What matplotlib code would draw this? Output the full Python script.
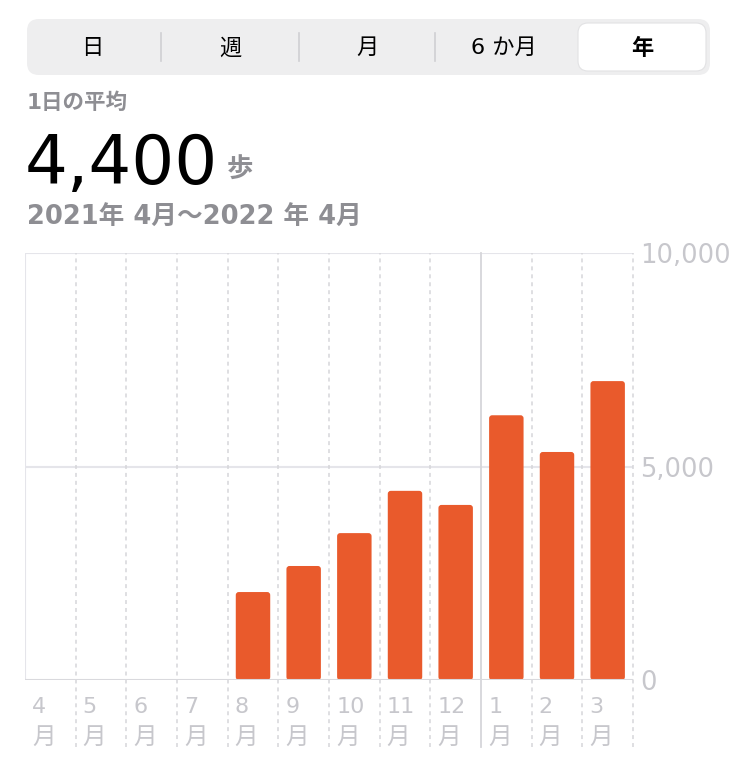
import numpy as np
import matplotlib
matplotlib.use("Agg")
import matplotlib.pyplot as plt
from matplotlib.patches import FancyBboxPatch
from matplotlib.transforms import blended_transform_factory

plt.rcParams['font.family'] = ['DejaVu Sans', 'Noto Sans CJK JP']

# data (steps per day, Apr 2021 - Mar 2022)
months = ["4", "5", "6", "7", "8", "9", "10", "11", "12", "1", "2", "3"]
steps = [0, 0, 0, 0, 2060, 2670, 3440, 4430, 4100, 6200, 5340, 7000]
y_ticks = [0, 5000, 10000]
tabs = ["日", "週", "月", "6 か月", "年"]
selected_tab = "年"
avg_label = "1日の平均"
avg_value = "4,400"
unit = "歩"
period = "2021年 4月〜2022 年 4月"

BAR = "#e95a2c"
GRAY = "#8e8e93"
LIGHT = "#c7c7cc"
GRID = "#e5e5ea"
DASH = "#d6d6da"

W, H = 732, 769
fig = plt.figure(figsize=(W / 100, H / 100), dpi=100)

# overlay in pixel coordinates for the header part
ov = fig.add_axes([0, 0, 1, 1])
ov.set_xlim(0, W)
ov.set_ylim(H, 0)
ov.axis("off")

# segmented control
ov.add_patch(FancyBboxPatch((27, 19), 683, 56, boxstyle="round,pad=0,rounding_size=12",
                            fc="#eeeeef", ec="none"))
ov.add_patch(FancyBboxPatch((578, 23), 128, 48, boxstyle="round,pad=0,rounding_size=10",
                            fc="white", ec="#e2e2e4", lw=0.8))
tab_x = [92, 230, 367, 504, 642]
for sx in [161, 299, 435]:
    ov.plot([sx, sx], [33, 61], color="#cfcfd3", lw=1.2)
for tx, t in zip(tab_x, tabs):
    ov.text(tx, 48, t, ha="center", va="center", fontsize=16, color="black",
            fontweight="bold" if t == selected_tab else "normal")

# header texts
ov.text(27, 103, avg_label, ha="left", va="center", fontsize=15.5, color=GRAY, fontweight="bold")
ov.text(25, 184, avg_value, ha="left", va="baseline", fontsize=48.5, color="black")
ov.text(227, 178, unit, ha="left", va="baseline", fontsize=19, color=GRAY, fontweight="bold")
ov.text(27, 218, period, ha="left", va="center", fontsize=18.5, color=GRAY, fontweight="bold")

# chart
ax = fig.add_axes([25 / W, 1 - 680 / H, 608 / W, 427 / H])
ax.set_xlim(0, 12)
ax.set_ylim(0, 10000)
for s in ax.spines.values():
    s.set_visible(False)
ax.set_xticks([])

x = np.arange(len(months)) + 0.5
bars = ax.bar(x, steps, width=0.68, color=BAR, linewidth=0, zorder=3)

# give the bars slightly rounded corners (about 3 px)
x_per_px = 12 / 608
y_per_px = 10000 / 427
for b in bars:
    if b.get_height() <= 0:
        continue
    rb = FancyBboxPatch((b.get_x(), b.get_y()), b.get_width(), b.get_height(),
                        boxstyle=f"round,pad=0,rounding_size={3 * x_per_px}",
                        mutation_aspect=y_per_px / x_per_px,
                        fc=BAR, ec="none", zorder=3)
    b.remove()
    ax.add_patch(rb)

ax.axhline(10000, color=GRID, lw=1.5, zorder=1)
ax.axhline(5000, color=GRID, lw=1.5, zorder=1)
ax.axhline(0, color="#d9d9dd", lw=1.5, zorder=4)
ax.axvline(0, color=GRID, lw=1.5, zorder=1)

vtrans = blended_transform_factory(ax.transData, ax.transAxes)
for i in range(1, 13):
    if months[i - 1] == "12":
        ax.plot([i, i], [-0.158, 1], transform=vtrans, color="#d6d6da", lw=1.3,
                clip_on=False, zorder=2)
    else:
        ax.plot([i, i], [-0.158, 1], transform=vtrans, color=DASH, lw=1.1,
                ls=(0, (2.6, 2.6)), clip_on=False, zorder=2)

# month labels below the axis
ltrans = blended_transform_factory(ax.transData, ov.transData)
for i, m in enumerate(months):
    ax.text(i + 0.14, 707, m, transform=ltrans, ha="left", va="center",
            fontsize=16, color=LIGHT, clip_on=False)
    ax.text(i + 0.14, 737, "月", transform=ltrans, ha="left", va="center",
            fontsize=17, color=LIGHT, clip_on=False)

ax.yaxis.tick_right()
ax.set_yticks(y_ticks)
ax.set_yticklabels([f"{v:,}" for v in y_ticks])
ax.tick_params(axis="y", length=0, pad=5, labelsize=18.5, labelcolor=LIGHT)

fig.savefig("out.png", dpi=100, facecolor="white")
